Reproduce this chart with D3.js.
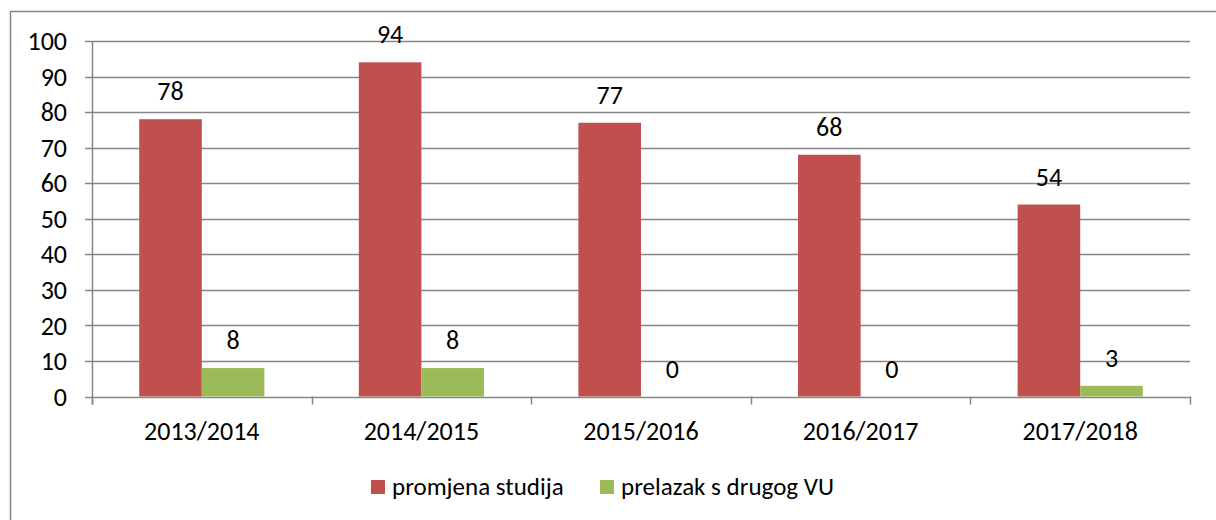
<!DOCTYPE html>
<html>
<head>
<meta charset="utf-8">
<script src="https://cdn.jsdelivr.net/npm/d3@7"></script>
<style>
  body { margin: 0; background: #fff; }
  svg { display: block; font-family: Carlito, Lato, "Open Sans", sans-serif; }
</style>
</head>
<body>
<div id="chart"></div>
<script>
const years = ["2013/2014", "2014/2015", "2015/2016", "2016/2017", "2017/2018"];
const promjena = [78, 94, 77, 68, 54];
const prelazak = [8, 8, 0, 0, 3];
const seriesNames = ["promjena studija", "prelazak s drugog VU"];
const seriesColors = ["#C0504D", "#9BBB59"];
const yTicks = [0, 10, 20, 30, 40, 50, 60, 70, 80, 90, 100];

const width = 1216, height = 520;
const margin = { left: 92, right: 26, top: 41, bottom: 123.5 };

const svg = d3.select("#chart").append("svg")
    .attr("width", width)
    .attr("height", height);

// outer frame (only top and left edges visible)
svg.append("rect")
    .attr("x", 10.5).attr("y", 11.5)
    .attr("width", width + 20).attr("height", height + 20)
    .attr("fill", "none")
    .attr("stroke", "#868686")
    .attr("stroke-width", 1.5);

const x = d3.scaleBand()
    .domain(years)
    .range([margin.left, width - margin.right]);

const xInner = d3.scaleBand()
    .domain([0, 1])
    .range([0, x.bandwidth()])
    .paddingInner(0)
    .paddingOuter(0.754);

const y = d3.scaleLinear()
    .domain([0, 100])
    .range([height - margin.bottom, margin.top]);

// gridlines
svg.append("g")
    .selectAll("line")
    .data(yTicks)
    .enter()
    .append("line")
    .attr("x1", margin.left - 7)
    .attr("x2", width - margin.right)
    .attr("y1", d => Math.round(y(d)) + 0.5)
    .attr("y2", d => Math.round(y(d)) + 0.5)
    .attr("stroke", "#868686")
    .attr("stroke-width", 1.5);

// y axis line
svg.append("line")
    .attr("x1", margin.left + 0.5).attr("x2", margin.left + 0.5)
    .attr("y1", margin.top).attr("y2", y(0) + 8)
    .attr("stroke", "#868686")
    .attr("stroke-width", 1.5);

// x category ticks
svg.append("g")
    .selectAll("line")
    .data(years.map(d => x(d)).concat([x(years[years.length - 1]) + x.bandwidth()]))
    .enter()
    .append("line")
    .attr("x1", d => Math.round(d) + 0.5)
    .attr("x2", d => Math.round(d) + 0.5)
    .attr("y1", y(0))
    .attr("y2", y(0) + 8)
    .attr("stroke", "#868686")
    .attr("stroke-width", 1.5);

// y labels
svg.append("g")
    .selectAll("text")
    .data(yTicks)
    .enter()
    .append("text")
    .attr("x", 67)
    .attr("y", d => y(d))
    .attr("dy", "0.35em")
    .attr("text-anchor", "end")
    .attr("font-size", "26px")
    .attr("fill", "#000")
    .text(d => d);

// x labels
svg.append("g")
    .selectAll("text")
    .data(years)
    .enter()
    .append("text")
    .attr("x", d => x(d) + x.bandwidth() / 2)
    .attr("y", 440)
    .attr("text-anchor", "middle")
    .attr("font-size", "26px")
    .attr("fill", "#000")
    .text(d => d);

const series = [promjena, prelazak];

series.forEach((vals, si) => {
    const g = svg.append("g");
    g.selectAll("rect")
        .data(vals)
        .enter()
        .append("rect")
        .attr("x", (d, i) => x(years[i]) + xInner(si))
        .attr("y", d => y(d))
        .attr("width", xInner.bandwidth())
        .attr("height", d => y(0) - y(d))
        .attr("fill", seriesColors[si]);

    g.selectAll("text")
        .data(vals)
        .enter()
        .append("text")
        .attr("x", (d, i) => x(years[i]) + xInner(si) + xInner.bandwidth() / 2)
        .attr("y", d => y(d) - 19)
        .attr("text-anchor", "middle")
        .attr("font-size", "26px")
        .attr("fill", "#000")
        .text(d => d);
});

// legend
const legendItems = [
    { name: seriesNames[0], color: seriesColors[0], x: 371 },
    { name: seriesNames[1], color: seriesColors[1], x: 600 }
];
const legend = svg.append("g");
legendItems.forEach(item => {
    legend.append("rect")
        .attr("x", item.x).attr("y", 480)
        .attr("width", 14).attr("height", 14)
        .attr("fill", item.color);
    legend.append("text")
        .attr("x", item.x + 21)
        .attr("y", 495)
        .attr("font-size", "25px")
        .attr("fill", "#000")
        .text(item.name);
});
</script>
</body>
</html>
